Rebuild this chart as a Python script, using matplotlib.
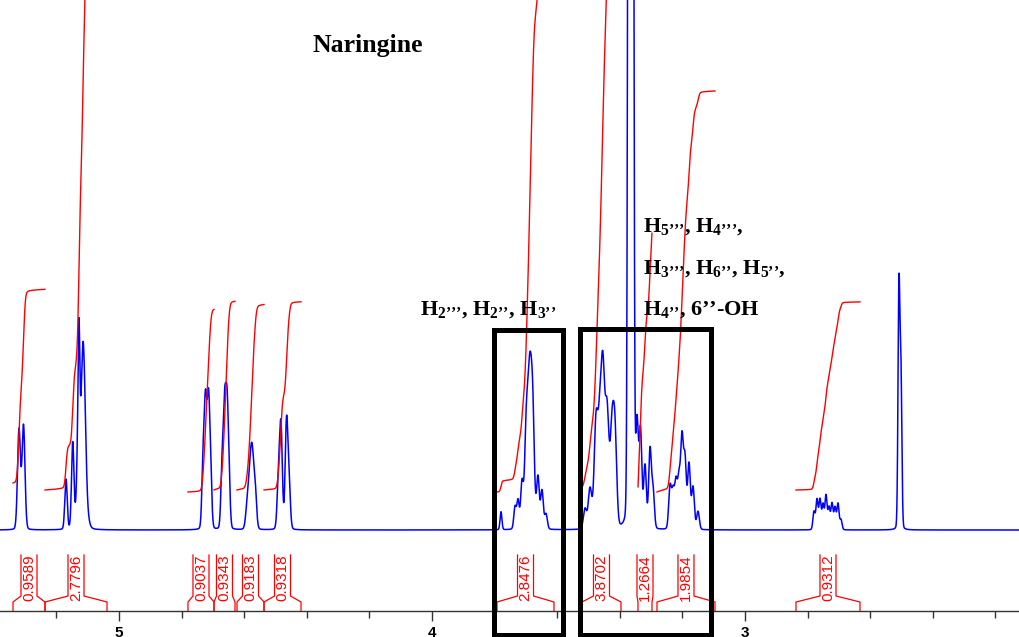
import numpy as np
import matplotlib
matplotlib.use('Agg')
import matplotlib.pyplot as plt
from matplotlib.patches import Rectangle
from matplotlib.ticker import MultipleLocator, FixedLocator

plt.rcParams['mathtext.fontset'] = 'custom'
plt.rcParams['mathtext.rm'] = 'Liberation Serif:bold'
plt.rcParams['mathtext.it'] = 'Liberation Serif:bold:italic'
plt.rcParams['mathtext.bf'] = 'Liberation Serif:bold'

# ---------------- data ----------------
title = 'Naringine'
tick_values = [5, 4, 3]
label_a = r"H$_{\mathrm{2’’’}}$, H$_{\mathrm{2’’}}$, H$_{\mathrm{3’’}}$"
label_b = [r"H$_{\mathrm{5’’’}}$, H$_{\mathrm{4’’’}}$,",
           r"H$_{\mathrm{3’’’}}$, H$_{\mathrm{6’’}}$, H$_{\mathrm{5’’}}$,",
           r"H$_{\mathrm{4’’}}$, 6’’-OH"]

# peak list: chemical shift (ppm), height (intensity units), line width (ppm)
peak_ppm = [5.3195, 5.3051,
            5.1693, 5.1479, 5.1310, 5.1278, 5.1182, 5.1150, 5.1086,
            4.7316, 4.7237, 4.7141, 4.7071,
            4.6709, 4.6629, 4.6550, 4.6486,
            4.5911, 4.5831, 4.5751, 4.5655,
            4.4904, 4.4824, 4.4649, 4.4569,
            3.7796, 3.7348, 3.7252, 3.7125, 3.6997, 3.6869, 3.6773, 3.6614, 3.6486, 3.6358,
            3.5112, 3.4952, 3.4760, 3.4633, 3.4537, 3.4409, 3.4249, 3.4153,
            3.3706, 3.3594,
            3.3451, 3.3339, 3.3195, 3.3035, 3.2939,
            3.2396, 3.2300, 3.2205, 3.2109, 3.2013, 3.1917, 3.1789, 3.1661, 3.1502,
            2.7796, 2.7700, 2.7604, 2.7508, 2.7412, 2.7316, 2.7221, 2.7125, 2.7029, 2.6933,
            2.5082, 2.5018]
peak_height = [100, 104,
               50, 85, 50, 105, 110, 70, 40,
               60, 122, 122, 45,
               55, 112, 112, 40,
               20, 40, 72, 40,
               50, 100, 105, 45,
               18, 22, 28, 45, 60, 172, 45, 50, 38, 15,
               20, 40, 105, 100, 135, 115, 95, 85,
               1400, 1400,
               100, 95, 62, 78, 38,
               42, 36, 45, 48, 88, 68, 65, 42, 18,
               18, 30, 30, 25, 34, 22, 26, 22, 26, 10,
               238, 150]
peak_width = [0.011, 0.011,
              0.009, 0.009, 0.009, 0.006, 0.024, 0.010, 0.010,
              0.009, 0.010, 0.010, 0.009,
              0.009, 0.010, 0.010, 0.009,
              0.011, 0.011, 0.012, 0.011,
              0.010, 0.010, 0.010, 0.010,
              0.007, 0.009, 0.009, 0.010, 0.011, 0.020, 0.010, 0.010, 0.010, 0.010,
              0.012, 0.013, 0.014, 0.014, 0.013, 0.014, 0.014, 0.013,
              0.008, 0.008,
              0.010, 0.010, 0.010, 0.010, 0.010,
              0.010, 0.010, 0.010, 0.010, 0.010, 0.010, 0.010, 0.010, 0.010,
              0.008, 0.008, 0.008, 0.008, 0.008, 0.008, 0.008, 0.008, 0.008, 0.008,
              0.007, 0.007]

# integrals: region start / end (ppm), value, starting level
integral_start = [5.3387, 5.2364, 4.7796, 4.6965, 4.6230, 4.5367, 3.7923, 3.5208, 3.3419, 3.2812, 2.8371]
integral_end = [5.2364, 5.0383, 4.6965, 4.6294, 4.5367, 4.4185, 3.6102, 3.3962, 3.2971, 3.0959, 2.6326]
integral_value = [0.9589, 2.7796, 0.9037, 0.9343, 0.9183, 0.9318, 2.8476, 3.8702, 1.2664, 1.9854, 0.9312]
integral_level = [47, 40, 38, 40, 40, 40, 38, 43, 41, 38, 40]

# ---------------- figure ----------------
W, H = 1019, 637
fig = plt.figure(figsize=(W / 100, H / 100), dpi=100)
ax = fig.add_axes([0, 26 / H, 1, 611 / H])
x_left = 5 + 119 / 313
x_right = 5 - 900 / 313
ax.set_xlim(x_left, x_right)
ax.set_ylim(-81, 530)

ppm = np.linspace(5.40, 2.10, 13201)
spec = np.zeros_like(ppm)
eta = 0.08
for c, h, w in zip(peak_ppm, peak_height, peak_width):
    g = (w / 2) ** 2
    lor = g / ((ppm - c) ** 2 + g)
    gau = np.exp(-4 * np.log(2) * (ppm - c) ** 2 / w ** 2)
    spec += h * ((1 - eta) * gau + eta * lor)
ax.plot(ppm, spec, color='#0000ff', lw=1.1)

scale = 202.0
px = 1 / 313.0
hw = 8 * px
for s, e, v, lvl in zip(integral_start, integral_end, integral_value, integral_level):
    m = (ppm <= s) & (ppm >= e)
    seg = spec[m]
    cum = np.cumsum(seg)
    cum = cum / cum[-1]
    ax.plot(ppm[m], lvl + v * scale * cum, color='#ff0000', lw=1.0)
    xc = min((s + e) / 2, x_left - 19 * px)
    ax.plot([s, s, xc + hw, xc + hw], [-81, -72, -66, -25], color='#ff0000', lw=0.9, clip_on=False)
    ax.plot([xc - hw, xc - hw, e, e], [-25, -66, -72, -81], color='#ff0000', lw=0.9, clip_on=False)
    ax.text(xc, -48, f'{v:.4f}', rotation=90, ha='center', va='center', color='#ff0000',
            fontsize=11, family='Liberation Sans')

for sp in ['top', 'left', 'right']:
    ax.spines[sp].set_visible(False)
ax.spines['bottom'].set_color('#333333')
ax.spines['bottom'].set_linewidth(1.0)
ax.xaxis.set_major_locator(FixedLocator(tick_values))
ax.xaxis.set_minor_locator(MultipleLocator(0.2))
ax.set_xticklabels([str(t) for t in tick_values])
ax.tick_params(axis='x', which='major', length=7, width=1, color='#333333', pad=4,
               labelsize=11)
ax.tick_params(axis='x', which='minor', length=5, width=1, color='#333333')
for lab in ax.get_xticklabels():
    lab.set_fontweight('bold')
    lab.set_family('Liberation Sans')
ax.set_yticks([])
ax.patch.set_visible(False)

# overlay in pixel coordinates for annotations
ov = fig.add_axes([0, 0, 1, 1])
ov.set_xlim(0, W)
ov.set_ylim(H, 0)
ov.axis('off')
ov.patch.set_visible(False)
ov.add_patch(Rectangle((494, 330), 69, 305, fill=False, ec='black', lw=3.6))
ov.add_patch(Rectangle((580.5, 329), 130.5, 306, fill=False, ec='black', lw=3.6))
tkw = dict(family='Liberation Serif', fontweight='bold', va='baseline', ha='left', color='black')
ov.text(313, 52, title, fontsize=18.5, **tkw)
ov.text(420, 315, label_a, fontsize=16, **tkw)
for i, t in enumerate(label_b):
    ov.text(643, 232 + 41.5 * i, t, fontsize=16, **tkw)

fig.savefig('out.png', dpi=100)
